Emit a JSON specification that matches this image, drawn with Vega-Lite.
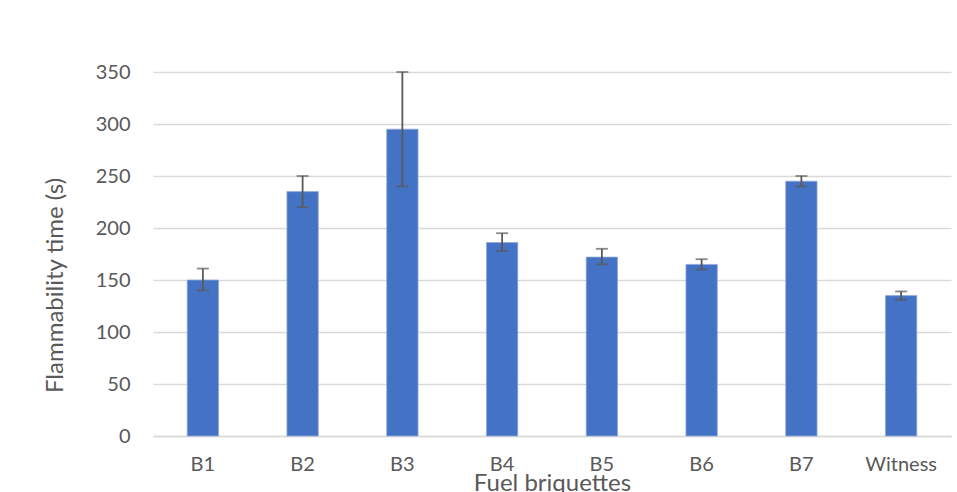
{
  "$schema": "https://vega.github.io/schema/vega-lite/v6.json",
  "width": 798,
  "height": 364,
  "autosize": {"type": "none"},
  "padding": {"left": 153, "top": 72, "right": 6, "bottom": 56},
  "background": "white",
  "config": {
    "view": {"stroke": null},
    "font": "Lato",
    "axis": {"labelFont": "Lato", "titleFont": "Lato", "labelColor": "#595959", "titleColor": "#595959", "titleFontWeight": "normal"}
  },
  "data": {
    "values": [
      {"briquette": "B1", "time": 150, "low": 140, "high": 161},
      {"briquette": "B2", "time": 235, "low": 220, "high": 250},
      {"briquette": "B3", "time": 295, "low": 240, "high": 350},
      {"briquette": "B4", "time": 186, "low": 178, "high": 195},
      {"briquette": "B5", "time": 172, "low": 165, "high": 180},
      {"briquette": "B6", "time": 165, "low": 160, "high": 170},
      {"briquette": "B7", "time": 245, "low": 240, "high": 250},
      {"briquette": "Witness", "time": 135, "low": 131, "high": 139}
    ]
  },
  "encoding": {
    "x": {
      "field": "briquette",
      "type": "nominal",
      "sort": null,
      "scale": {"paddingInner": 0.686, "paddingOuter": 0.343},
      "axis": {
        "title": "Fuel briquettes",
        "labelAngle": 0,
        "labelFontSize": 20,
        "labelPadding": 18,
        "ticks": false,
        "domainColor": "#d9d9d9",
        "domainWidth": 1.5,
        "titleFontSize": 24,
        "titleBaseline": "alphabetic",
        "titleY": 54
      }
    }
  },
  "layer": [
    {
      "mark": {"type": "bar", "color": "#4472C4", "stroke": "#8fa9dc", "strokeWidth": 0.8},
      "encoding": {
        "y": {
          "field": "time",
          "type": "quantitative",
          "scale": {"domain": [0, 350], "nice": false},
          "axis": {
            "title": "Flammability time (s)",
            "values": [0, 50, 100, 150, 200, 250, 300, 350],
            "labelFontSize": 20,
            "labelPadding": 23,
            "ticks": false,
            "domain": false,
            "gridColor": "#d9d9d9",
            "gridWidth": 1.5,
            "titleFontSize": 24,
            "titleBaseline": "alphabetic",
            "titleX": -91,
            "titleY": 213,
            "titleAngle": -90,
            "titleAlign": "center"
          }
        }
      }
    },
    {
      "mark": {"type": "rule", "color": "#595959", "strokeWidth": 1.8},
      "encoding": {"y": {"field": "low", "type": "quantitative"}, "y2": {"field": "high"}}
    },
    {
      "mark": {"type": "tick", "color": "#595959", "size": 12, "thickness": 1.8},
      "encoding": {"y": {"field": "low", "type": "quantitative"}}
    },
    {
      "mark": {"type": "tick", "color": "#595959", "size": 12, "thickness": 1.8},
      "encoding": {"y": {"field": "high", "type": "quantitative"}}
    }
  ]
}
